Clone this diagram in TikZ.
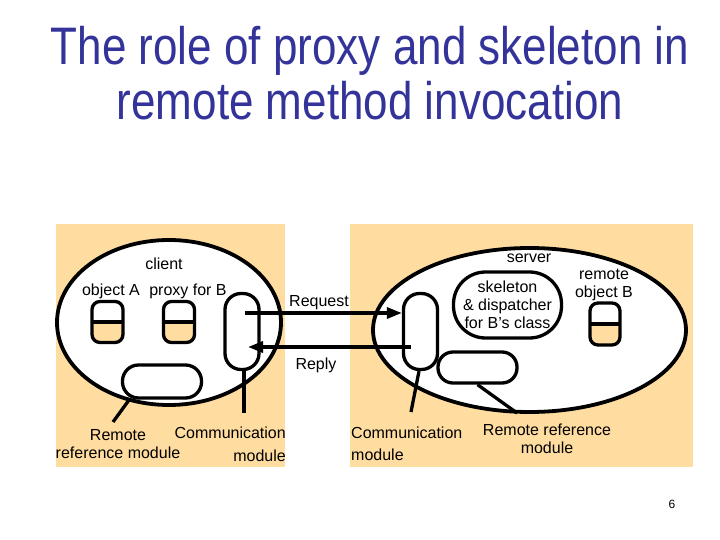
\documentclass[tikz,border=0pt]{standalone}
\usepackage{fontspec}
\setmainfont{Liberation Sans}
\usetikzlibrary{arrows.meta,shapes.geometric}
\definecolor{bgtan}{RGB}{255,221,160}
\definecolor{titleblue}{RGB}{51,51,153}
\tikzset{
  lbl/.style={font=\fontsize{16}{18}\selectfont, inner sep=0pt, align=center},
  env/.style={fill=bgtan, draw=none},
  procell/.style={ellipse, draw, fill=white, line width=3.8pt, inner sep=0pt},
  objbox/.style={draw, line width=3.3pt, rounded corners=8pt, minimum width=31pt, minimum height=41pt, inner sep=0pt,
    path picture={\fill[bgtan] (path picture bounding box.west) rectangle (path picture bounding box.south east);
                  \draw[line width=3.3pt] (path picture bounding box.west) -- (path picture bounding box.east);}},
  modbox/.style={draw, line width=3.3pt, fill=white, inner sep=0pt},
  arr/.style={line width=3.3pt, -{Triangle[length=15pt,width=11pt]}},
  lead/.style={line width=3.3pt}
}
\begin{document}
\begin{tikzpicture}[x=1pt,y=-1pt]
\useasboundingbox (0,0) rectangle (720,540);
\fill[white] (0,0) rectangle (720,540);
% title
\node[titleblue, font=\fontsize{44}{51}\selectfont, align=center] (title) at (370,73)
  {\scalebox{1}[1.2]{The role of proxy and skeleton in}\\[4pt]\scalebox{1}[1.2]{remote method invocation}};
% backgrounds
\node[env, minimum width=229pt, minimum height=243pt, inner sep=0pt] (bgL) at (170.5,345.5) {};
\node[env, minimum width=343pt, minimum height=243pt, inner sep=0pt] (bgR) at (521.5,345.5) {};
% process ellipses
\node[procell, minimum width=224pt, minimum height=165pt] (client) at (169,322.5) {};
\node[procell, minimum width=313pt, minimum height=164pt] (server) at (529.5,330) {};
% client side
\node[lbl] (clientlbl) at (164,264) {client};
\node[lbl] (objAlbl) at (111,291) {object A};
\node[lbl] (proxylbl) at (188,291) {proxy for B};
\node[objbox] (objA) at (107.5,322) {};
\node[objbox] (proxyB) at (179,322) {};
\node[modbox, minimum width=34pt, minimum height=76pt, rounded corners=16pt] (commL) at (242,331.5) {};
\node[modbox, minimum width=79pt, minimum height=33pt, rounded corners=16pt] (refL) at (162,381.5) {};
% server side
\node[lbl] (serverlbl) at (529,258) {server};
\node[lbl] (objBlbl) at (604,285) {remote\\object B};
\node[objbox, minimum width=30pt, minimum height=42pt] (objB) at (605,324) {};
\node[modbox, minimum width=34pt, minimum height=76pt, rounded corners=16pt] (commR) at (420.5,331.5) {};
\node[modbox, minimum width=108pt, minimum height=66pt, rounded corners=32pt, lbl, line width=3.3pt] (skel) at (507.5,305)
  {skeleton\\[0pt]\& dispatcher\\[0pt]for B's class};
\node[modbox, minimum width=79pt, minimum height=31pt, rounded corners=15pt] (refR) at (477.5,367.5) {};
% messages
\coordinate (reqS) at ([xshift=3pt,yshift=18.5pt]commL.center);
\coordinate (repE) at ([xshift=6pt,yshift=-15.5pt]commL.center);
\coordinate (repS) at ([xshift=-10pt,yshift=-15.5pt]commR.center);
\draw[arr] (reqS) -- (reqS -| commR.west);
\draw[arr] (repS) -- (repE);
\node[lbl] (reqlbl) at (319,303) {Request};
\node[lbl] (replbl) at (316,365) {Reply};
% leader lines and labels
\coordinate (l1) at (113,422);
\coordinate (l2) at (244,413);
\coordinate (l3) at (411,412);
\coordinate (l4) at (517,413);
\draw[lead] ([xshift=-32pt,yshift=1pt]refL.south) -- (l1);
\draw[lead] ([xshift=2pt]commL.south) -- (l2);
\draw[lead] ([xshift=-1.5pt]commR.south) -- (l3);
\draw[lead] (refR.south) -- (l4);
\node[lbl] (refLlbl) at (118,444.5) {Remote\\[0pt]reference module};
\node[lbl, align=right, anchor=east] (commLlbl) at (286,444) {Communication\\[5pt]module};
\node[lbl, align=left, anchor=west] (commRlbl) at (351,443.5) {Communication\\[4pt]module};
\node[lbl] (refRlbl) at (547,438.5) {Remote reference\\[0pt]module};
% page number
\node[font=\fontsize{12}{14}\selectfont, inner sep=0pt] (page) at (672,504) {6};
\end{tikzpicture}
\end{document}
